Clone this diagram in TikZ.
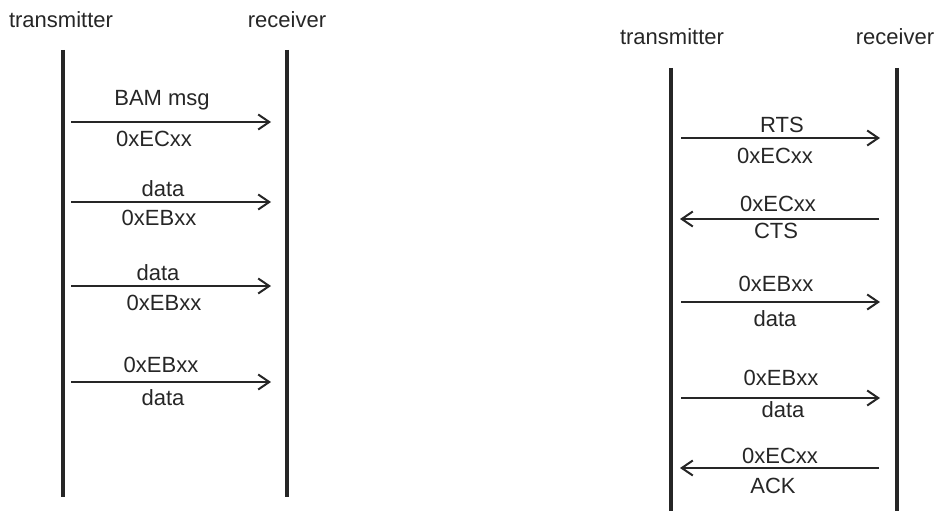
\documentclass[tikz,border=0pt]{standalone}
\usepackage{fontspec}
\setmainfont{Liberation Sans}
\usetikzlibrary{arrows.meta}
\begin{document}
\begin{tikzpicture}[x=1pt,y=-1pt,
  lifeline/.style={line width=4.5pt,black!85},
  msg/.style={line width=2pt,-{Straight Barb[length=11pt,width=15pt,line width=2pt]},color=black!85},
  lbl/.style={anchor=base,inner sep=0pt,font=\fontsize{22}{26}\selectfont,text=black!85},
  hdr/.style={anchor=base,inner sep=0pt,font=\fontsize{22}{26}\selectfont,text=black!85}]
\useasboundingbox (0,0) rectangle (937,511);
% left diagram
\node[hdr] (lt) at (61,28) {transmitter};
\node[hdr] (lr) at (287,28) {receiver};
\coordinate (lTt) at (63,50); \coordinate (lTb) at (63,497);
\coordinate (lRt) at (287,50); \coordinate (lRb) at (287,497);
\draw[lifeline] (lTt) -- (lTb);
\draw[lifeline] (lRt) -- (lRb);
\coordinate (l1s) at (71,122); \coordinate (l1e) at (271,122);
\coordinate (l2s) at (71,202); \coordinate (l2e) at (271,202);
\coordinate (l3s) at (71,286); \coordinate (l3e) at (271,286);
\coordinate (l4s) at (71,382); \coordinate (l4e) at (271,382);
\draw[msg] (l1s) -- (l1e);
\draw[msg] (l2s) -- (l2e);
\draw[msg] (l3s) -- (l3e);
\draw[msg] (l4s) -- (l4e);
\node[lbl] (l1a) at (162,106) {BAM msg};
\node[lbl] (l1b) at (154,146) {0xECxx};
\node[lbl] (l2a) at (163,196) {data};
\node[lbl] (l2b) at (159,225) {0xEBxx};
\node[lbl] (l3a) at (158,280) {data};
\node[lbl] (l3b) at (164,310) {0xEBxx};
\node[lbl] (l4a) at (161,372) {0xEBxx};
\node[lbl] (l4b) at (163,405) {data};
% right diagram
\node[hdr] (rt) at (672,45) {transmitter};
\node[hdr] (rr) at (895,45) {receiver};
\coordinate (rTt) at (671,68); \coordinate (rTb) at (671,511);
\coordinate (rRt) at (897,68); \coordinate (rRb) at (897,511);
\draw[lifeline] (rTt) -- (rTb);
\draw[lifeline] (rRt) -- (rRb);
\coordinate (r1s) at (681,138); \coordinate (r1e) at (880,138);
\coordinate (r2s) at (879,219); \coordinate (r2e) at (680,219);
\coordinate (r3s) at (681,302); \coordinate (r3e) at (880,302);
\coordinate (r4s) at (681,398); \coordinate (r4e) at (880,398);
\coordinate (r5s) at (879,468); \coordinate (r5e) at (680,468);
\draw[msg] (r1s) -- (r1e);
\draw[msg] (r2s) -- (r2e);
\draw[msg] (r3s) -- (r3e);
\draw[msg] (r4s) -- (r4e);
\draw[msg] (r5s) -- (r5e);
\node[lbl] (r1a) at (782,132) {RTS};
\node[lbl] (r1b) at (775,163) {0xECxx};
\node[lbl] (r2a) at (778,211) {0xECxx};
\node[lbl] (r2b) at (776,238) {CTS};
\node[lbl] (r3a) at (776,291) {0xEBxx};
\node[lbl] (r3b) at (775,326) {data};
\node[lbl] (r4a) at (781,385) {0xEBxx};
\node[lbl] (r4b) at (783,417) {data};
\node[lbl] (r5a) at (780,463) {0xECxx};
\node[lbl] (r5b) at (773,493) {ACK};
\end{tikzpicture}
\end{document}
